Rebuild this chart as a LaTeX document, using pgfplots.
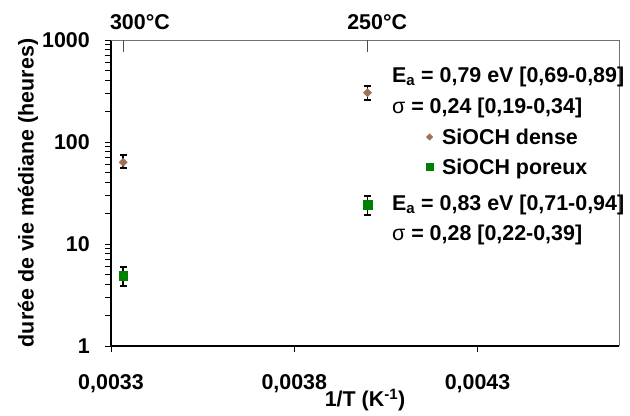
\documentclass[border=0pt]{standalone}
\usepackage{fontspec}
\setmainfont{Liberation Sans}
\usepackage{pgfplots}
\pgfplotsset{compat=1.18}
\usepackage{pgfplotstable}
\definecolor{dense}{RGB}{160,112,88}
\definecolor{poreux}{RGB}{0,128,0}
\newcommand{\cf}{\fontsize{21.5}{25}\selectfont\bfseries}

\pgfplotstableread{
x y ep em
0.0033333 63.2 10.7 7.2
0.004 304 50 46
}\densetab
\pgfplotstableread{
x y ep em
0.0033333 4.86 1.13 0.96
0.004 24.1 5.4 4.9
}\poreuxtab

\begin{document}
\begin{tikzpicture}
\begin{axis}[
  name=ax,
  scale only axis, width=508bp, height=306bp,
  ymode=log, xmin=0.0033, xmax=0.004686, ymin=1, ymax=1000,
  scaled x ticks=false,
  axis x line*=bottom, axis y line*=left,
  axis line style={black, line width=1.2bp},
  xtick={0.0033,0.0038,0.0043}, xticklabels={{0,0033},{0,0038},{0,0043}},
  ytick={1,10,100,1000}, yticklabels={1,10,100,1000},
  tick align=outside, major tick length=6bp, minor tick length=6bp,
  tick style={black, line width=0.8bp},
  xticklabel style={font=\cf, anchor=base, inner sep=0pt, yshift=-37.5bp},
  yticklabel style={font=\cf, anchor=east, inner sep=0pt, xshift=-15bp},
  legend style={at={(rel axis cs:0.6197,0.634)}, anchor=west, draw=none, fill=none,
    font=\cf, inner sep=0pt, row sep=9bp, column sep=7bp},
  legend cell align=left,
  clip=false,
]
\addlegendimage{only marks, mark=square*, mark options={rotate=45}, mark size=2.3bp, color=dense}
\addlegendentry{SiOCH dense}
\addlegendimage{only marks, mark=square*, mark size=3.6bp, color=poreux}
\addlegendentry{SiOCH poreux}

\addplot[forget plot, only marks, mark=square*, mark options={rotate=45}, mark size=2.9bp, color=dense,
  error bars/.cd, y dir=both, y explicit,
  error bar style={black, line width=1.8bp},
  error mark options={black, line width=2bp, mark size=3.5bp, rotate=90}]
  table[x=x, y=y, y error plus=ep, y error minus=em]{\densetab};
\addplot[forget plot, only marks, mark=square*, mark size=4.4bp, color=poreux,
  error bars/.cd, y dir=both, y explicit,
  error bar style={black, line width=1.8bp},
  error mark options={black, line width=2bp, mark size=3.5bp, rotate=90}]
  table[x=x, y=y, y error plus=ep, y error minus=em]{\poreuxtab};

\draw[black!55, line width=0.8bp] (rel axis cs:0,1) -- (rel axis cs:1,1) -- (rel axis cs:1,0);
\draw[black!70, line width=0.8bp] (axis cs:0.0033333,1000) -- ([yshift=-12bp]axis cs:0.0033333,1000);
\draw[black!70, line width=0.8bp] (axis cs:0.004,1000) -- ([yshift=-12bp]axis cs:0.004,1000);
\node[font=\cf] at ([yshift=18bp]rel axis cs:0.057,1) {300°C};
\node[font=\cf] at ([yshift=18bp]rel axis cs:0.524,1) {250°C};

\node[font=\cf, anchor=west, inner sep=0pt] at (rel axis cs:0.553,0.879) {E\textsubscript{a} = 0,79 eV [0,69-0,89]};
\node[font=\cf, anchor=west, inner sep=0pt] at (rel axis cs:0.553,0.778) {{\mdseries σ} = 0,24 [0,19-0,34]};
\node[font=\cf, anchor=west, inner sep=0pt] at (rel axis cs:0.553,0.461) {E\textsubscript{a} = 0,83 eV [0,71-0,94]};
\node[font=\cf, anchor=west, inner sep=0pt] at (rel axis cs:0.553,0.363) {{\mdseries σ} = 0,28 [0,22-0,39]};

\node[font=\cf, rotate=90] at ([xshift=-83bp]rel axis cs:0,0.5) {durée de vie médiane (heures)};
\node[font=\cf] at ([yshift=-54bp]rel axis cs:0.5,0) {1/T (K\textsuperscript{-1})};
\end{axis}
\pgfresetboundingbox
\path[use as bounding box] ([shift={(-111bp,-70bp)}]ax.south west) rectangle ([shift={(519bp,346bp)}]ax.south west);
\end{tikzpicture}
\end{document}
